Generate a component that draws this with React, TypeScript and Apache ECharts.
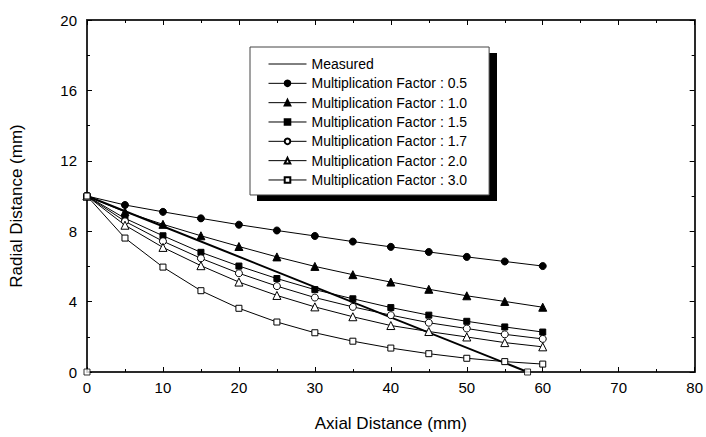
import React, { useEffect, useRef } from "react";
import * as echarts from "echarts";

const xValues = [0, 5, 10, 15, 20, 25, 30, 35, 40, 45, 50, 55, 60];
const factor05 = [10, 9.49, 9.1, 8.73, 8.37, 8.04, 7.73, 7.41, 7.11, 6.82, 6.54, 6.28, 6.02];
const factor10 = [10, 9.1, 8.39, 7.74, 7.13, 6.54, 6.0, 5.53, 5.11, 4.7, 4.33, 4.01, 3.68];
const factor15 = [10, 8.73, 7.74, 6.8, 6.02, 5.31, 4.68, 4.16, 3.66, 3.23, 2.88, 2.56, 2.27];
const factor17 = [10, 8.56, 7.43, 6.46, 5.61, 4.88, 4.23, 3.7, 3.23, 2.8, 2.47, 2.14, 1.88];
const factor20 = [10, 8.34, 7.08, 6.04, 5.11, 4.35, 3.7, 3.14, 2.64, 2.3, 1.99, 1.67, 1.43];
const factor30 = [10, 7.61, 5.96, 4.62, 3.62, 2.84, 2.23, 1.75, 1.36, 1.04, 0.78, 0.59, 0.45];
const measuredX = [0, 58];
const measuredY = [10, 0];
const endpointX = [0, 58];
const endpointY = [0, 0];

const seriesNames = [
  "Measured",
  "Multiplication Factor : 0.5",
  "Multiplication Factor : 1.0",
  "Multiplication Factor : 1.5",
  "Multiplication Factor : 1.7",
  "Multiplication Factor : 2.0",
  "Multiplication Factor : 3.0",
];

const FONT = "'Liberation Sans', Arial, Helvetica, sans-serif";

function pairs(xs: number[], ys: number[]) {
  return xs.map((x, i) => [x, ys[i]]);
}

export default function App() {
  const ref = useRef<HTMLDivElement>(null);
  useEffect(() => {
    if (!ref.current) return;
    const chart = echarts.init(ref.current, null, { renderer: "svg" });

    const markerSeries = (
      name: string,
      ys: number[],
      symbol: string,
      size: number,
      filled: boolean
    ) => ({
      name,
      type: "line",
      data: pairs(xValues, ys),
      symbol,
      symbolSize: size,
      showSymbol: true,
      lineStyle: { color: "#000", width: 1 },
      itemStyle: {
        color: filled ? "#000" : "#fff",
        borderColor: "#000",
        borderWidth: 1,
      },
      emphasis: { disabled: true },
      z: 3,
    });

    const axisCommon = {
      min: 0,
      axisLine: { show: true, onZero: false, lineStyle: { color: "#2a2a2a", width: 2 } },
      axisTick: { show: true, inside: true, length: 5, lineStyle: { color: "#000", width: 1 } },
      minorTick: { show: true, splitNumber: 2, length: 3, lineStyle: { color: "#000", width: 1 } },
      splitLine: { show: false },
    };

    chart.setOption({
      animation: false,
      backgroundColor: "#fff",
      grid: { left: 82, right: 10, top: 20, bottom: 57, containLabel: false },
      graphic: [
        {
          type: "rect",
          z: 1,
          shape: { x: 257, y: 53, width: 240, height: 148 },
          style: { fill: "#000" },
        },
      ],
      legend: {
        orient: "vertical",
        left: 250,
        top: 47,
        padding: [10, 22, 8, 18],
        itemWidth: 38,
        itemHeight: 7,
        itemGap: 5.33,
        backgroundColor: "#fff",
        borderColor: "#444",
        borderWidth: 1,
        z: 5,
        selectedMode: false,
        data: seriesNames.map((n, i) =>
          i === 0 ? { name: n, itemStyle: { opacity: 0 } } : { name: n }
        ),
        lineStyle: { width: 1, color: "#000" },
        textStyle: { fontFamily: FONT, fontSize: 14, color: "#000", lineHeight: 14 },
      },
      xAxis: [
        {
          ...axisCommon,
          type: "value",
          position: "bottom",
          max: 80,
          interval: 10,
          name: "Axial Distance (mm)",
          nameLocation: "middle",
          nameGap: 43,
          nameTextStyle: { fontFamily: FONT, fontSize: 17, color: "#000" },
          axisLabel: { fontFamily: FONT, fontSize: 15, color: "#000", margin: 8 },
        },
        {
          ...axisCommon,
          type: "value",
          position: "top",
          max: 80,
          interval: 10,
          axisLabel: { show: false },
        },
      ],
      yAxis: [
        {
          ...axisCommon,
          type: "value",
          position: "left",
          max: 20,
          interval: 4,
          name: "Radial Distance (mm)",
          nameLocation: "middle",
          nameGap: 62,
          nameTextStyle: { fontFamily: FONT, fontSize: 17, color: "#000", padding: [0, 20, 0, 0] },
          axisLabel: { fontFamily: FONT, fontSize: 15, color: "#000", margin: 10 },
        },
        {
          ...axisCommon,
          type: "value",
          position: "right",
          max: 20,
          interval: 4,
          axisLabel: { show: false },
        },
      ],
      series: [
        {
          name: seriesNames[0],
          type: "line",
          data: pairs(measuredX, measuredY),
          symbol: "circle",
          showSymbol: false,
          lineStyle: { color: "#000", width: 2 },
          itemStyle: { color: "#000" },
          emphasis: { disabled: true },
          z: 2,
        },
        markerSeries(seriesNames[1], factor05, "circle", 7, true),
        markerSeries(seriesNames[2], factor10, "triangle", 8, true),
        markerSeries(seriesNames[3], factor15, "rect", 6, true),
        markerSeries(seriesNames[4], factor17, "circle", 7, false),
        markerSeries(seriesNames[5], factor20, "triangle", 8, false),
        markerSeries(seriesNames[6], factor30, "rect", 6, false),
        {
          name: "endpoints",
          type: "scatter",
          data: pairs(endpointX, endpointY),
          symbol: "rect",
          symbolSize: 6,
          itemStyle: { color: "#fff", borderColor: "#000", borderWidth: 1 },
          emphasis: { disabled: true },
          z: 4,
        },
      ],
    });
    return () => chart.dispose();
  }, []);
  return (
    <div
      ref={ref}
      style={{ position: "fixed", left: 0, top: 0, width: 706, height: 437 }}
    />
  );
}
